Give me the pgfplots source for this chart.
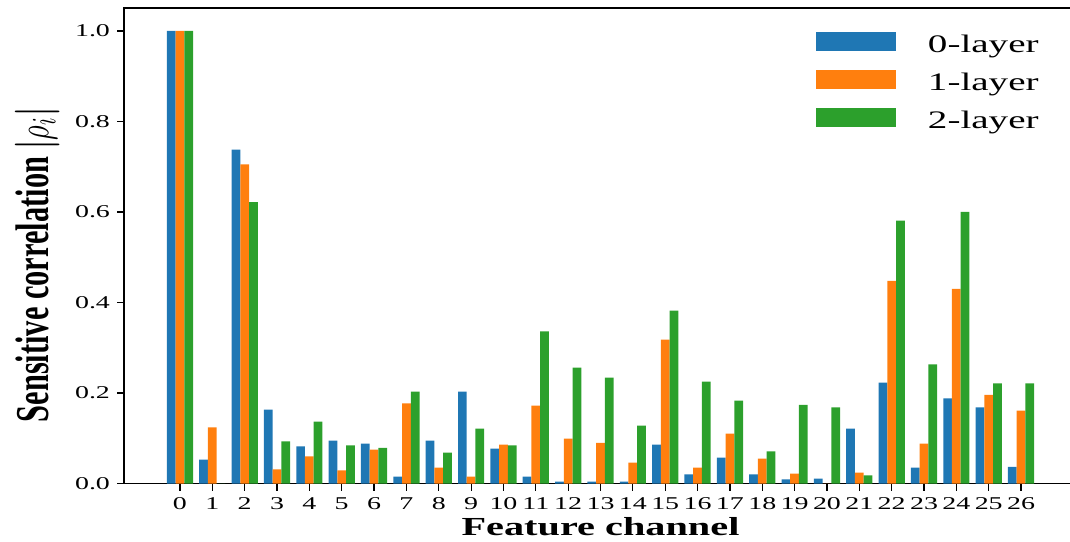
\documentclass[border=0pt]{standalone}
\usepackage{amsmath}
\usepackage{fontspec}
\setmainfont{Liberation Serif}
\usepackage{graphicx}
\usepackage{pgfplots}
\usepackage{pgfplotstable}
\pgfplotsset{compat=1.18}
\newcommand\sx[1]{\scalebox{1.55}[1]{#1}}
\definecolor{cA}{HTML}{1F77B4}
\definecolor{cB}{HTML}{FF7F0E}
\definecolor{cC}{HTML}{2CA02C}
\pgfplotstableread{
ch l0 l1 l2
0 1.000 1.000 1.000
1 0.053 0.124 0.000
2 0.738 0.705 0.622
3 0.163 0.031 0.093
4 0.082 0.060 0.137
5 0.095 0.029 0.084
6 0.088 0.075 0.079
7 0.015 0.177 0.203
8 0.095 0.035 0.068
9 0.203 0.015 0.121
10 0.077 0.086 0.084
11 0.015 0.172 0.336
12 0.004 0.099 0.256
13 0.004 0.090 0.234
14 0.004 0.046 0.128
15 0.086 0.318 0.382
16 0.020 0.035 0.225
17 0.057 0.110 0.183
18 0.020 0.055 0.071
19 0.009 0.022 0.174
20 0.011 0.000 0.168
21 0.121 0.024 0.018
22 0.223 0.448 0.581
23 0.035 0.088 0.263
24 0.188 0.430 0.600
25 0.168 0.196 0.221
26 0.037 0.161 0.221
}\datatable
\begin{document}
\begin{tikzpicture}
\path[use as bounding box] (0,0) rectangle (535pt,270.5pt);
\begin{axis}[
  at={(62pt,28.75pt)}, anchor=south west,
  scale only axis, width=476.5pt, height=237.75pt,
  xmin=-1.73, xmax=27.73, ymin=0, ymax=1.0508,
  axis line style={black, line width=0.6pt},
  tick style={black, line width=0.6pt},
  major tick length=3.5pt,
  tick align=outside,
  xtick pos=bottom, ytick pos=left,
  xtick={0,...,26},
  xticklabels={\sx{0},\sx{1},\sx{2},\sx{3},\sx{4},\sx{5},\sx{6},\sx{7},\sx{8},\sx{9},\sx{10},\sx{11},\sx{12},\sx{13},\sx{14},\sx{15},\sx{16},\sx{17},\sx{18},\sx{19},\sx{20},\sx{21},\sx{22},\sx{23},\sx{24},\sx{25},\sx{26}},
  ytick={0,0.2,0.4,0.6,0.8,1.0},
  yticklabels={\sx{0.0},\sx{0.2},\sx{0.4},\sx{0.6},\sx{0.8},\sx{1.0}},
  tick label style={font=\fontsize{9}{10}\selectfont},
  xlabel={\sx{\bfseries Feature channel}},
  every axis x label/.style={at={(axis description cs:0.5,-0.1083)}, anchor=base, inner sep=0pt, font=\fontsize{13}{14}\selectfont},
  ylabel={\scalebox{1}[1.55]{\bfseries Sensitive correlation $\boldsymbol{|}\rho_i\boldsymbol{|}$}},
  every axis y label/.style={at={(axis description cs:-0.0672,0.4595)}, anchor=south, rotate=90, inner sep=0pt, font=\fontsize{15.2}{16}\selectfont},
  legend style={draw=none, fill=none, at={(0.7261,0.9495)}, anchor=north west,
    inner sep=0pt, outer sep=0pt, row sep=6pt, column sep=16pt,
    nodes={inner sep=0pt, text height=10pt, text depth=3pt},
    font=\fontsize{12.6}{13}\selectfont},
  legend cell align=left,
  legend image code/.code={\fill[#1] (0pt,-3pt) rectangle (40pt,6.5pt);},
]
\addplot[ybar, bar width=0.27, bar shift=-0.27, fill=cA, draw=none] table[x=ch, y=l0] {\datatable};
\addlegendentry{\sx{0-layer}}
\addplot[ybar, bar width=0.27, bar shift=0, fill=cB, draw=none] table[x=ch, y=l1] {\datatable};
\addlegendentry{\sx{1-layer}}
\addplot[ybar, bar width=0.27, bar shift=0.27, fill=cC, draw=none] table[x=ch, y=l2] {\datatable};
\addlegendentry{\sx{2-layer}}
\end{axis}
\end{tikzpicture}
\end{document}
